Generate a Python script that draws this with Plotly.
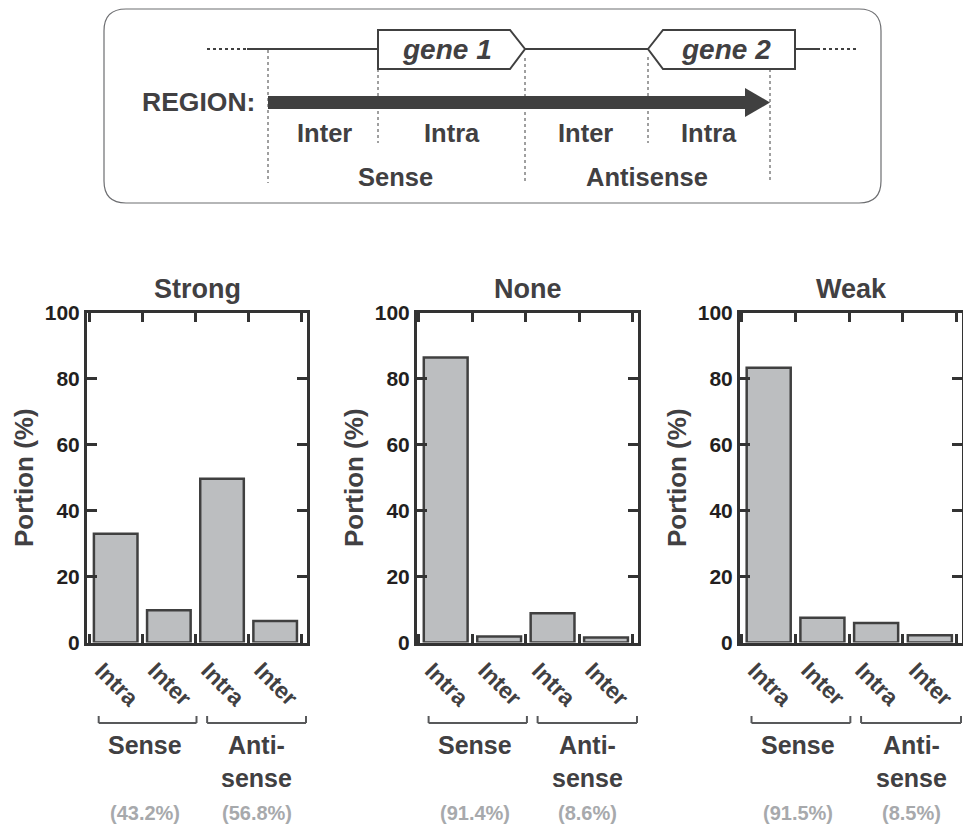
import plotly.graph_objects as go

W, H = 971, 828

# ---------------- data ----------------
panels = ["Strong", "None", "Weak"]
categories = ["Sense Intra", "Sense Inter", "Antisense Intra", "Antisense Inter"]
tick_labels = ["Intra", "Inter", "Intra", "Inter"]
strong_vals = [33.0, 9.8, 49.7, 6.5]
none_vals = [86.5, 1.8, 8.9, 1.5]
weak_vals = [83.4, 7.5, 5.9, 2.2]
sense_pct = ["(43.2%)", "(91.4%)", "(91.5%)"]
antisense_pct = ["(56.8%)", "(8.6%)", "(8.5%)"]
group_labels = ["Sense", "Anti-<br>sense"]
y_tick_vals = [0, 20, 40, 60, 80, 100]
y_title = "Portion (%)"
diagram_regions = ["Inter", "Intra", "Inter", "Intra"]
diagram_groups = ["Sense", "Antisense"]
gene_labels = ["gene 1", "gene 2"]

series = [strong_vals, none_vals, weak_vals]

# ---------------- style ----------------
FONT = "Liberation Sans, Arial, sans-serif"
TXT = "#414042"
DARK = "#231f20"
AX = "#333333"
BAR = "#bcbec0"
PCT = "#a7a9ac"

# the page places the figure 8px from the window's top-left corner
OFF = 8

def px(x):
    return (x - OFF) / W

def py(y):
    return 1 - (y - OFF) / H

panel_px = [(87, 307), (417, 638), (740, 962)]
y_dom = [py(642.5), py(313)]

fig = go.Figure()
layout = dict(
    width=W, height=H,
    margin=dict(l=0, r=0, t=0, b=0, pad=0, autoexpand=False),
    paper_bgcolor="white", plot_bgcolor="white",
    showlegend=False, bargap=0.18,
    font=dict(family=FONT, color=TXT),
)
annotations = []
shapes = []

for i, (name, vals) in enumerate(zip(panels, series)):
    n = "" if i == 0 else str(i + 1)
    xa, ya = "x" + n, "y" + n
    fig.add_trace(go.Bar(
        x=categories, y=vals, xaxis=xa, yaxis=ya,
        marker=dict(color=BAR, line=dict(color="#404040", width=2.5)),
    ))
    x0, x1 = panel_px[i]
    layout["xaxis" + n] = dict(
        domain=[px(x0), px(x1)], anchor=ya, type="category",
        categoryorder="array", categoryarray=categories,
        tickson="boundaries", ticks="inside", ticklen=9, tickwidth=3,
        tickcolor=AX, showticklabels=False, showline=True, linewidth=3,
        linecolor=AX, mirror="ticks", showgrid=False, zeroline=False,
        fixedrange=True, automargin=False,
    )
    layout["yaxis" + n] = dict(
        domain=y_dom, anchor=xa, range=[0, 100], tickvals=y_tick_vals,
        ticks="inside", ticklen=10, tickwidth=3, tickcolor=AX,
        showline=True, linewidth=3, linecolor=AX, mirror="ticks",
        showgrid=False, zeroline=False, automargin=False,
        tickfont=dict(family=FONT, size=21, color=DARK, weight="bold"),
        title=dict(text=y_title, standoff=4,
                   font=dict(family=FONT, size=26, color=TXT, weight="bold")),
    )
    # panel title
    annotations.append(dict(
        text=name, xref="paper", yref="paper", x=px((x0 + x1) / 2), y=py(289),
        showarrow=False, font=dict(size=27, color=TXT, weight="bold"),
        xanchor="center", yanchor="middle",
    ))
    # rotated category labels
    for c, t in zip(categories, tick_labels):
        annotations.append(dict(
            text=t, xref=xa, yref="paper", x=c, y=py(684), xshift=1,
            showarrow=False, textangle=45,
            font=dict(size=23, color=TXT, weight="bold"),
            xanchor="center", yanchor="middle",
        ))
    # brackets
    for (b0, b1) in [(-0.32, 1.52), (1.72, 3.58)]:
        shapes.append(dict(type="line", xref=xa, yref="paper", x0=b0, x1=b1,
                           y0=py(723), y1=py(723), line=dict(color="#58595b", width=2)))
        for b in (b0, b1):
            shapes.append(dict(type="line", xref=xa, yref="paper", x0=b, x1=b,
                               y0=py(723), y1=py(716), line=dict(color="#58595b", width=2)))
    # group labels
    for gx, gl, gy in [(0.55, group_labels[0], 745), (2.65, group_labels[1], 761)]:
        annotations.append(dict(
            text=gl, xref=xa, yref="paper", x=gx, y=py(gy), showarrow=False,
            font=dict(size=25, color=TXT, weight="bold"), xanchor="center",
            yanchor="middle",
        ))
    for gx, gl in [(0.55, sense_pct[i]), (2.65, antisense_pct[i])]:
        annotations.append(dict(
            text=gl, xref=xa, yref="paper", x=gx, y=py(813), showarrow=False,
            font=dict(size=20, color=PCT, weight="bold"), xanchor="center",
            yanchor="middle", borderpad=0,
        ))

# ---------------- schematic diagram ----------------
L, R, T, B, r = 104, 881, 9, 203, 22
box_path = (
    f"M {px(L + r)},{py(T)} L {px(R - r)},{py(T)} Q {px(R)},{py(T)} {px(R)},{py(T + r)} "
    f"L {px(R)},{py(B - r)} Q {px(R)},{py(B)} {px(R - r)},{py(B)} "
    f"L {px(L + r)},{py(B)} Q {px(L)},{py(B)} {px(L)},{py(B - r)} "
    f"L {px(L)},{py(T + r)} Q {px(L)},{py(T)} {px(L + r)},{py(T)} Z"
)
shapes.append(dict(type="path", xref="paper", yref="paper", path=box_path,
                   line=dict(color="#6d6e71", width=1.2)))

def hline(xa_, xb_, y, dash="solid", w=2):
    shapes.append(dict(type="line", xref="paper", yref="paper",
                       x0=px(xa_), x1=px(xb_), y0=py(y), y1=py(y),
                       line=dict(color="#404040", width=w, dash=dash)))

def vline(x, ya_, yb_):
    shapes.append(dict(type="line", xref="paper", yref="paper",
                       x0=px(x), x1=px(x), y0=py(ya_), y1=py(yb_),
                       line=dict(color="#404040", width=1, dash="dot")))

GL = 49
hline(207, 247, GL, dash="dot", w=2)
hline(247, 378, GL)
hline(525, 648, GL)
hline(795, 817, GL)
hline(817, 857, GL, dash="dot", w=2)

vline(268, 50, 183)
vline(378, 69, 143)
vline(525, 58, 183)
vline(648, 57, 143)
vline(770, 69, 183)

def poly(pts, fill="white"):
    p = "M " + " L ".join(f"{px(a)},{py(b)}" for a, b in pts) + " Z"
    shapes.append(dict(type="path", xref="paper", yref="paper", path=p,
                       fillcolor=fill, line=dict(color="#404040", width=2)))

poly([(378, 30), (510, 30), (525, 49), (510, 69), (378, 69)])
poly([(648, 49), (663, 30), (795, 30), (795, 69), (663, 69)])

# big arrow
shapes.append(dict(type="rect", xref="paper", yref="paper",
                   x0=px(268), x1=px(746), y0=py(96), y1=py(109),
                   fillcolor="#404040", line=dict(width=0)))
shapes.append(dict(type="path", xref="paper", yref="paper",
                   path=f"M {px(745)},{py(88)} L {px(770)},{py(102.5)} L {px(745)},{py(117)} Z",
                   fillcolor="#404040", line=dict(width=0)))

def dtext(t, x, y, size=25, anchor="center", italic=False):
    annotations.append(dict(
        text=t, xref="paper", yref="paper", x=px(x), y=py(y), showarrow=False,
        xanchor=anchor, yanchor="middle",
        font=dict(size=size, color=TXT, weight="bold",
                  style="italic" if italic else "normal"),
    ))

dtext(gene_labels[0], 447, 49, size=28, italic=True)
dtext(gene_labels[1], 726, 49, size=28, italic=True)
dtext("REGION:", 257, 102, size=26.5, anchor="right")
for t, x in zip(diagram_regions, [324, 452, 585, 709]):
    dtext(t, x, 133, size=25.5)
for t, x in zip(diagram_groups, [395, 647]):
    dtext(t, x, 177, size=25.5)

layout["annotations"] = annotations
layout["shapes"] = shapes
fig.update_layout(**layout)
fig.write_html("out.html")
